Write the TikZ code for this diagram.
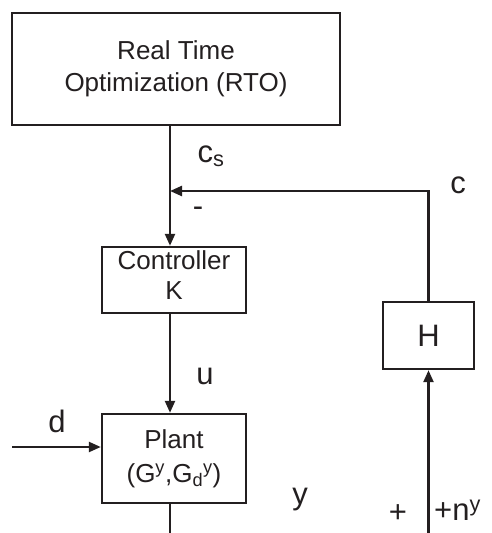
\documentclass[tikz,border=0pt]{standalone}
\usepackage{fontspec}
\setmainfont{Liberation Sans}
\usetikzlibrary{arrows.meta,calc,positioning}
\definecolor{LoopInk}{HTML}{231F20}
\tikzset{
  every node/.style={text=LoopInk},
  block/.style={draw=LoopInk, line width=2.4pt, align=center, inner sep=0pt,
    font=\fontsize{26}{32}\selectfont},
  signal/.style={font=\fontsize{31}{34}\selectfont, inner sep=0pt},
  wire/.style={draw=LoopInk, line width=2.3pt},
  flow/.style={wire, -{Triangle[length=12pt,width=10pt]}},
}
\begin{document}
\begin{tikzpicture}[x=1pt,y=-1pt]
  % pixel frame of the reference, y pointing down
  \useasboundingbox (0,0) rectangle (492,533);
  \node[block, minimum width=328, minimum height=112] (rto) at (176,69) {Real Time\\Optimization (RTO)};
  \node[block, minimum width=144, minimum height=66] (ctrl) at (174,280) {Controller\\[-2pt]K\rule[-10pt]{0pt}{0pt}};
  \node[block, minimum width=144, minimum height=89] (plant) at (174,458.5) {\raisebox{2pt}{Plant}\\(G\textsuperscript{y},G\textsubscript{d}\textsuperscript{y})};
  \node[block, minimum width=91, minimum height=67, font=\fontsize{31}{34}\selectfont] (hbox) at (428.5,335.5) {H};
  \coordinate (sum) at (170,191);
  \coordinate (din) at (12,447);
  \coordinate (yout) at (170,533);
  \coordinate (nin) at (428.5,533);
  % connectors
  \draw[wire] (rto.south -| sum) -- (sum);
  \draw[flow] (sum) -- (ctrl.north -| sum);
  \draw[flow] (hbox.north) |- (sum);
  \draw[flow] (ctrl.south -| sum) -- (plant.north -| sum);
  \draw[flow] (din) -- (plant.west |- din);
  \draw[wire] (plant.south -| sum) -- (yout);
  \draw[flow] (nin) -- (hbox.south);
  % signal labels
  \node[signal] (lcs) at (211,156) {c\textsubscript{s}};
  \node[signal] (lminus) at (198,212) {-};
  \node[signal] (lc) at (458,185) {c};
  \node[signal] (lu) at (205,376) {u};
  \node[signal] (ld) at (57,421) {d};
  \node[signal] (ly) at (300,500) {y};
  \node[signal] (lplus) at (398,514) {+};
  \node[signal, anchor=west] (lnoise) at (434,510) {+n\textsuperscript{y}};
\end{tikzpicture}
\end{document}
